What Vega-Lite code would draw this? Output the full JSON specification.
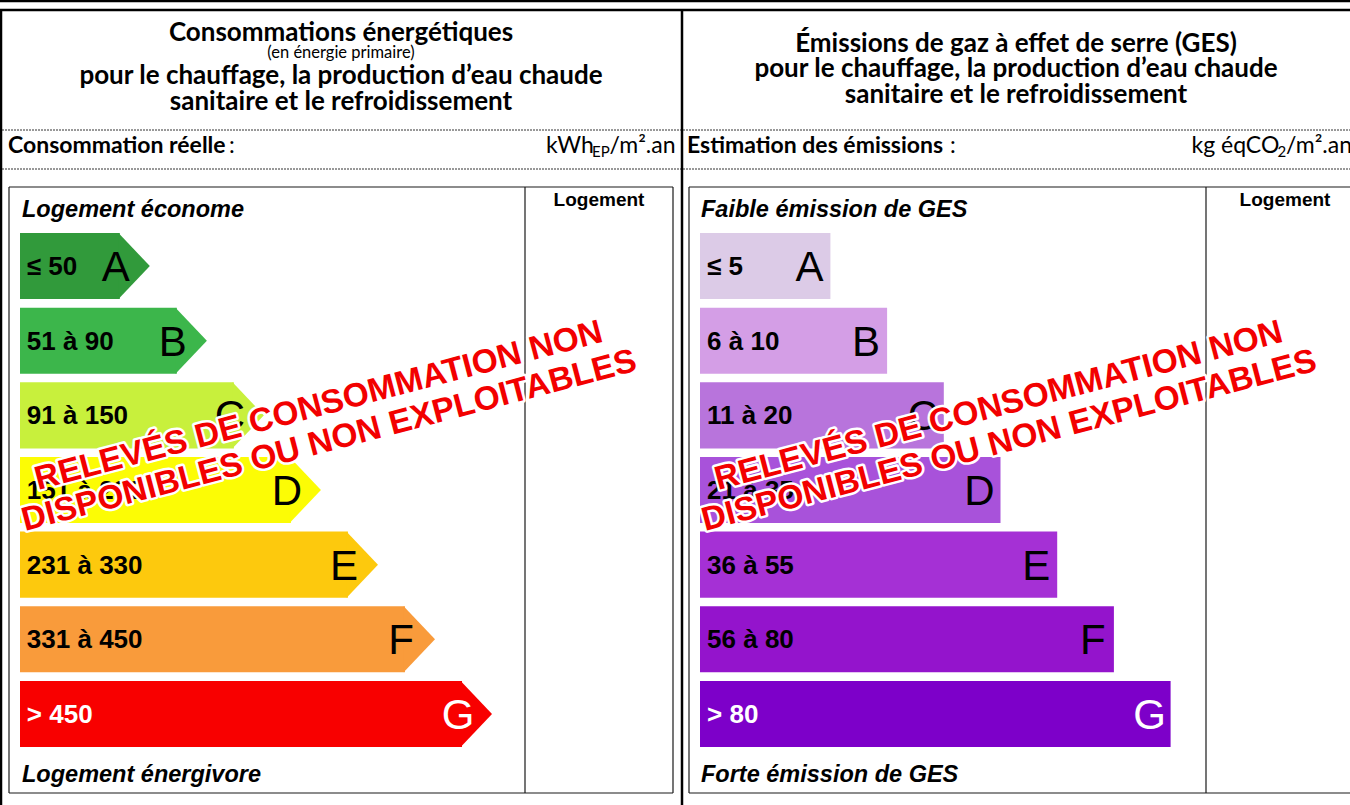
{
  "$schema": "https://vega.github.io/schema/vega-lite/v6.json",
  "width": 1350,
  "height": 805,
  "autosize": {"type": "none"},
  "padding": 0,
  "background": "#ffffff",
  "config": {"view": {"stroke": null}, "axis": {"disable": true}, "legend": {"disable": true}},
  "datasets": {
    "energie": [
      {"classe": "A", "plage": "≤ 50", "rang": 1},
      {"classe": "B", "plage": "51 à 90", "rang": 2},
      {"classe": "C", "plage": "91 à 150", "rang": 3},
      {"classe": "D", "plage": "151 à 230", "rang": 4},
      {"classe": "E", "plage": "231 à 330", "rang": 5},
      {"classe": "F", "plage": "331 à 450", "rang": 6},
      {"classe": "G", "plage": "> 450", "rang": 7}
    ],
    "ges": [
      {"classe": "A", "plage": "≤ 5", "rang": 1},
      {"classe": "B", "plage": "6 à 10", "rang": 2},
      {"classe": "C", "plage": "11 à 20", "rang": 3},
      {"classe": "D", "plage": "21 à 35", "rang": 4},
      {"classe": "E", "plage": "36 à 55", "rang": 5},
      {"classe": "F", "plage": "56 à 80", "rang": 6},
      {"classe": "G", "plage": "> 80", "rang": 7}
    ],
    "cadre": [
      {"x": 0, "x2": 1350, "y": 1, "y2": 1},
      {"x": 0, "x2": 1350, "y": 10, "y2": 10},
      {"x": 1, "x2": 1, "y": 10, "y2": 805},
      {"x": 682, "x2": 682, "y": 10, "y2": 805}
    ],
    "pointilles": [
      {"x": 2, "x2": 1350, "y": 130, "y2": 130},
      {"x": 2, "x2": 1350, "y": 169, "y2": 169}
    ],
    "boites": [
      {"x": 9, "x2": 673, "y": 187, "y2": 187},
      {"x": 9, "x2": 673, "y": 793, "y2": 793},
      {"x": 9, "x2": 9, "y": 187, "y2": 793},
      {"x": 673, "x2": 673, "y": 187, "y2": 793},
      {"x": 525, "x2": 525, "y": 187, "y2": 793},
      {"x": 689, "x2": 1350, "y": 187, "y2": 187},
      {"x": 689, "x2": 1350, "y": 793, "y2": 793},
      {"x": 689, "x2": 689, "y": 187, "y2": 793},
      {"x": 1206, "x2": 1206, "y": 187, "y2": 793}
    ],
    "titres": [
      {"texte": "Consommations énergétiques", "x": 341, "y": 41},
      {"texte": "pour le chauffage, la production d’eau chaude", "x": 341, "y": 84},
      {"texte": "sanitaire et le refroidissement", "x": 341, "y": 110},
      {"texte": "Émissions de gaz à effet de serre (GES)", "x": 1016, "y": 52},
      {"texte": "pour le chauffage, la production d’eau chaude", "x": 1016, "y": 77},
      {"texte": "sanitaire et le refroidissement", "x": 1016, "y": 103}
    ],
    "sous_titre": [
      {"texte": "(en énergie primaire)", "x": 341, "y": 58}
    ],
    "entetes": [
      {"texte": "Consommation réelle", "x": 8, "y": 153},
      {"texte": "Estimation des émissions", "x": 687, "y": 153}
    ],
    "deux_points": [
      {"texte": ":", "x": 229, "y": 153},
      {"texte": ":", "x": 950, "y": 153}
    ],
    "unites": [
      {"texte": "kWh", "x": 546, "y": 153},
      {"texte": "/m².an", "x": 609.5, "y": 153},
      {"texte": "kg éqCO", "x": 1191.5, "y": 153},
      {"texte": "/m².an", "x": 1286, "y": 153}
    ],
    "indices": [
      {"texte": "EP", "x": 592, "y": 157},
      {"texte": "2", "x": 1277.5, "y": 157}
    ],
    "italiques": [
      {"texte": "Logement économe", "x": 22, "y": 217},
      {"texte": "Logement énergivore", "x": 22, "y": 782},
      {"texte": "Faible émission de GES", "x": 701, "y": 217},
      {"texte": "Forte émission de GES", "x": 701, "y": 782}
    ],
    "logement": [
      {"texte": "Logement", "x": 599, "y": 206},
      {"texte": "Logement", "x": 1285, "y": 206}
    ],
    "filigrane": [
      {"texte": "RELEVÉS DE CONSOMMATION NON", "x": 38, "y": 490},
      {"texte": "DISPONIBLES OU NON EXPLOITABLES", "x": 25, "y": 531},
      {"texte": "RELEVÉS DE CONSOMMATION NON", "x": 718, "y": 490},
      {"texte": "DISPONIBLES OU NON EXPLOITABLES", "x": 705, "y": 531}
    ]
  },
  "resolve": {"scale": {"x": "independent", "y": "independent", "color": "independent"}},
  "layer": [
    {
      "encoding": {
        "x": {"field": "x", "type": "quantitative", "scale": {"domain": [0, 1350], "nice": false, "zero": false}},
        "y": {"field": "y", "type": "quantitative", "scale": {"domain": [0, 805], "nice": false, "zero": false, "reverse": true}}
      },
      "layer": [
        {"data": {"name": "pointilles"}, "mark": {"type": "rule", "color": "#333333", "strokeWidth": 1, "strokeDash": [2, 1]}, "encoding": {"x2": {"field": "x2"}, "y2": {"field": "y2"}}},
        {"data": {"name": "boites"}, "mark": {"type": "rule", "color": "#1a1a1a", "strokeWidth": 1.2}, "encoding": {"x2": {"field": "x2"}, "y2": {"field": "y2"}}},
        {"data": {"name": "cadre"}, "mark": {"type": "rule", "color": "#000000", "strokeWidth": 2.5}, "encoding": {"x2": {"field": "x2"}, "y2": {"field": "y2"}}},
        {"data": {"name": "titres"}, "mark": {"type": "text", "font": "Lato", "fontWeight": "bold", "fontSize": 26, "align": "center", "baseline": "alphabetic", "fill": "#000000"}, "encoding": {"text": {"field": "texte"}}},
        {"data": {"name": "sous_titre"}, "mark": {"type": "text", "font": "Lato", "fontSize": 16.5, "align": "center", "baseline": "alphabetic", "fill": "#000000"}, "encoding": {"text": {"field": "texte"}}},
        {"data": {"name": "entetes"}, "mark": {"type": "text", "font": "Lato", "fontWeight": "bold", "fontSize": 23, "align": "left", "baseline": "alphabetic", "fill": "#000000"}, "encoding": {"text": {"field": "texte"}}},
        {"data": {"name": "deux_points"}, "mark": {"type": "text", "font": "Lato", "fontSize": 23, "align": "left", "baseline": "alphabetic", "fill": "#000000"}, "encoding": {"text": {"field": "texte"}}},
        {"data": {"name": "unites"}, "mark": {"type": "text", "font": "Lato", "fontSize": 23, "align": "left", "baseline": "alphabetic", "fill": "#000000"}, "encoding": {"text": {"field": "texte"}}},
        {"data": {"name": "indices"}, "mark": {"type": "text", "font": "Lato", "fontSize": 15, "align": "left", "baseline": "alphabetic", "fill": "#000000"}, "encoding": {"text": {"field": "texte"}}},
        {"data": {"name": "italiques"}, "mark": {"type": "text", "font": "Liberation Sans", "fontWeight": "bold", "fontStyle": "italic", "fontSize": 23.5, "align": "left", "baseline": "alphabetic", "fill": "#000000"}, "encoding": {"text": {"field": "texte"}}},
        {"data": {"name": "logement"}, "mark": {"type": "text", "font": "Liberation Sans", "fontWeight": "bold", "fontSize": 19, "align": "center", "baseline": "alphabetic", "fill": "#000000"}, "encoding": {"text": {"field": "texte"}}}
      ]
    },
    {
      "data": {"name": "energie"},
      "encoding": {
        "y": {"field": "classe", "type": "nominal", "scale": {"type": "band", "domain": ["A", "B", "C", "D", "E", "F", "G"], "range": [233, 747], "paddingInner": 0.115, "paddingOuter": 0}},
        "color": {"field": "classe", "type": "nominal", "scale": {"domain": ["A", "B", "C", "D", "E", "F", "G"], "range": ["#319a3b", "#3cb64b", "#c8f03c", "#fcfc05", "#fdc90d", "#f99b3b", "#f80000"]}}
      },
      "layer": [
        {"mark": {"type": "rect"}, "encoding": {"x": {"field": "rang", "type": "quantitative", "scale": {"domain": [-0.75, 7], "range": [20, 462], "nice": false, "zero": false}}, "x2": {"datum": -0.75}}},
        {"mark": {"type": "point", "shape": "M-0.04,-1L0.91,0L-0.04,1Z", "size": 4356, "filled": true, "opacity": 1, "strokeWidth": 0}, "encoding": {"x": {"field": "rang", "type": "quantitative"}}},
        {"mark": {"type": "text", "font": "Liberation Sans", "fontWeight": "bold", "fontSize": 26, "align": "left", "baseline": "alphabetic", "dy": 9}, "encoding": {"x": {"datum": -0.63, "type": "quantitative"}, "text": {"field": "plage"}, "color": {"condition": {"test": "datum.classe === 'G'", "value": "#ffffff"}, "value": "#000000"}}},
        {"mark": {"type": "text", "font": "Liberation Sans", "fontSize": 42, "align": "center", "baseline": "alphabetic", "dx": -4, "dy": 15}, "encoding": {"x": {"field": "rang", "type": "quantitative"}, "text": {"field": "classe"}, "color": {"condition": {"test": "datum.classe === 'G'", "value": "#ffffff"}, "value": "#000000"}}}
      ]
    },
    {
      "data": {"name": "ges"},
      "encoding": {
        "y": {"field": "classe", "type": "nominal", "scale": {"type": "band", "domain": ["A", "B", "C", "D", "E", "F", "G"], "range": [233, 747], "paddingInner": 0.115, "paddingOuter": 0}},
        "color": {"field": "classe", "type": "nominal", "scale": {"domain": ["A", "B", "C", "D", "E", "F", "G"], "range": ["#dccbe7", "#d49ee6", "#b874dc", "#a852da", "#a530d5", "#9414cc", "#7d00c9"]}}
      },
      "layer": [
        {"mark": {"type": "rect"}, "encoding": {"x": {"field": "rang", "type": "quantitative", "scale": {"domain": [-1.3, 7], "range": [700, 1170.6], "nice": false, "zero": false}}, "x2": {"datum": -1.3}}},
        {"mark": {"type": "text", "font": "Liberation Sans", "fontWeight": "bold", "fontSize": 26, "align": "left", "baseline": "alphabetic", "dy": 9}, "encoding": {"x": {"datum": -1.175, "type": "quantitative"}, "text": {"field": "plage"}, "color": {"condition": {"test": "datum.classe === 'G'", "value": "#ffffff"}, "value": "#000000"}}},
        {"mark": {"type": "text", "font": "Liberation Sans", "fontSize": 42, "align": "center", "baseline": "alphabetic", "dx": -21, "dy": 15}, "encoding": {"x": {"field": "rang", "type": "quantitative"}, "text": {"field": "classe"}, "color": {"condition": {"test": "datum.classe === 'G'", "value": "#ffffff"}, "value": "#000000"}}}
      ]
    },
    {
      "data": {"name": "filigrane"},
      "encoding": {
        "x": {"field": "x", "type": "quantitative", "scale": {"domain": [0, 1350], "nice": false, "zero": false}},
        "y": {"field": "y", "type": "quantitative", "scale": {"domain": [0, 805], "nice": false, "zero": false, "reverse": true}},
        "text": {"field": "texte"}
      },
      "layer": [
        {"mark": {"type": "text", "font": "Liberation Sans", "fontWeight": "bold", "fontSize": 33.5, "angle": 345.3, "align": "left", "baseline": "alphabetic", "fill": "#ffffff", "stroke": "#ffffff", "strokeWidth": 5, "strokeJoin": "round"}},
        {"mark": {"type": "text", "font": "Liberation Sans", "fontWeight": "bold", "fontSize": 33.5, "angle": 345.3, "align": "left", "baseline": "alphabetic", "fill": "#f20000"}}
      ]
    }
  ]
}
